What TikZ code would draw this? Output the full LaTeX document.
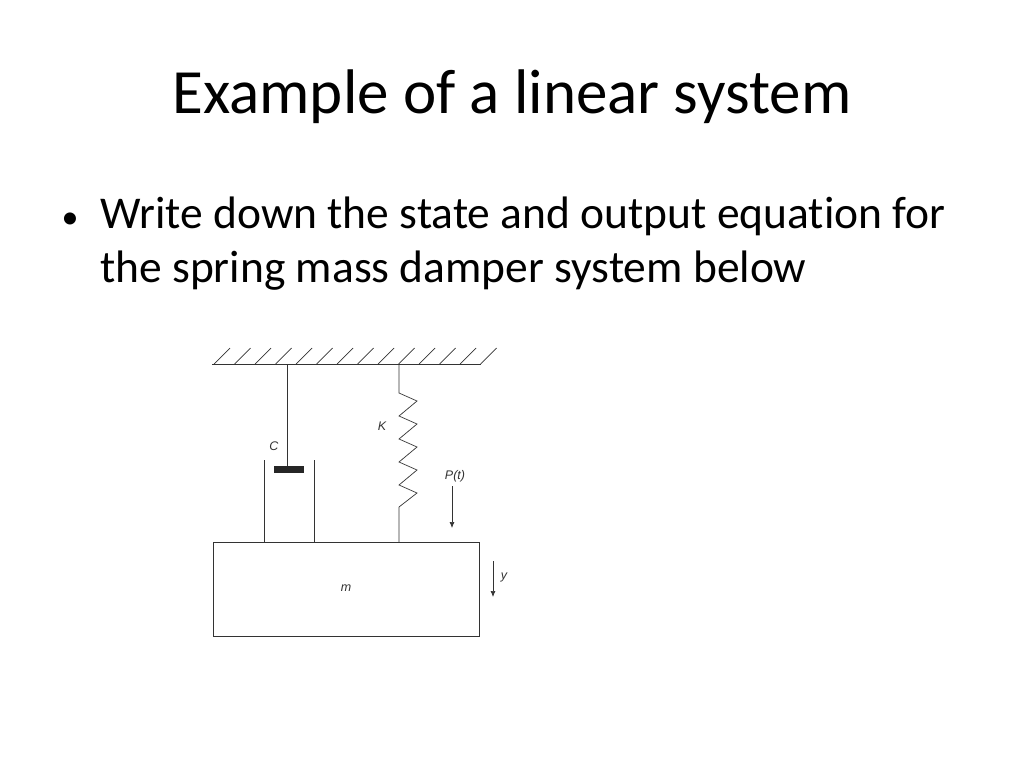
\documentclass[tikz,border=0pt]{standalone}
\usepackage{fontspec}
\setmainfont{Carlito}[Ligatures=NoCommon]
\newfontfamily\dfont{Liberation Sans}
\usetikzlibrary{arrows.meta,decorations.pathmorphing}
\begin{document}
\begin{tikzpicture}[x=1pt,y=-1pt,
  ln/.style={line width=0.7pt,black!80},
  lab/.style={font=\dfont\itshape\fontsize{12.5}{14}\selectfont,text=black!80},
  arr/.style={ln,-{Latex[length=6pt,width=5pt]}}]
\useasboundingbox (0,0) rectangle (1024,768);
\node (title) at (512,97) {\fontsize{63}{70}\selectfont Example of a linear system};
\node[anchor=base] (b1) at (70,228) {\fontsize{34}{40}\selectfont •};
\node[anchor=base west,inner sep=0pt] (t1) at (100,228) {\fontsize{45.5}{50}\selectfont Write down the state and output equation for};
\node[anchor=base west,inner sep=0pt] (t2) at (100,282) {\fontsize{45.5}{50}\selectfont the spring mass damper system below};
% ceiling
\coordinate (cl) at (212,364); \coordinate (cr) at (481,364);
\draw[ln] (cl) -- (cr);
\foreach \i in {0,...,13} \draw[ln] (214+20.5*\i,364) -- ++(16,-16);
% mass
\node[draw,ln,minimum width=266pt,minimum height=94pt,inner sep=0pt] (mass) at (346,589) {};
\node[lab] (m) at (346,588) {m};
% damper
\coordinate (dtop) at (287,364);
\node[fill=black!85,minimum width=30pt,minimum height=7pt,inner sep=0pt] (piston) at (289,469.5) {};
\draw[ln] (dtop) -- (piston.north -| dtop);
\draw[ln] (264,460) -- (264,542) (314,460) -- (314,542);
\node[lab] (C) at (274,446) {C};
% spring
\coordinate (stop) at (399,364); \coordinate (sbot) at (399,542);
\draw[ln] (stop) -- (399,393) -- (417,401) -- (399,416) -- (417,424) -- (399,439) -- (417,447) -- (399,462) -- (417,470) -- (399,485) -- (417,493) -- (399,507) -- (sbot);
\node[lab] (K) at (382,426) {K};
% force
\node[lab] (P) at (455,476) {P(t)};
\coordinate (pa) at (452,486); \coordinate (pb) at (452,528);
\draw[arr] (pa) -- (pb);
\coordinate (ya) at (493,561); \coordinate (yb) at (493,597);
\draw[arr] (ya) -- (yb);
\node[lab] (y) at (504,577) {y};
\end{tikzpicture}
\end{document}
